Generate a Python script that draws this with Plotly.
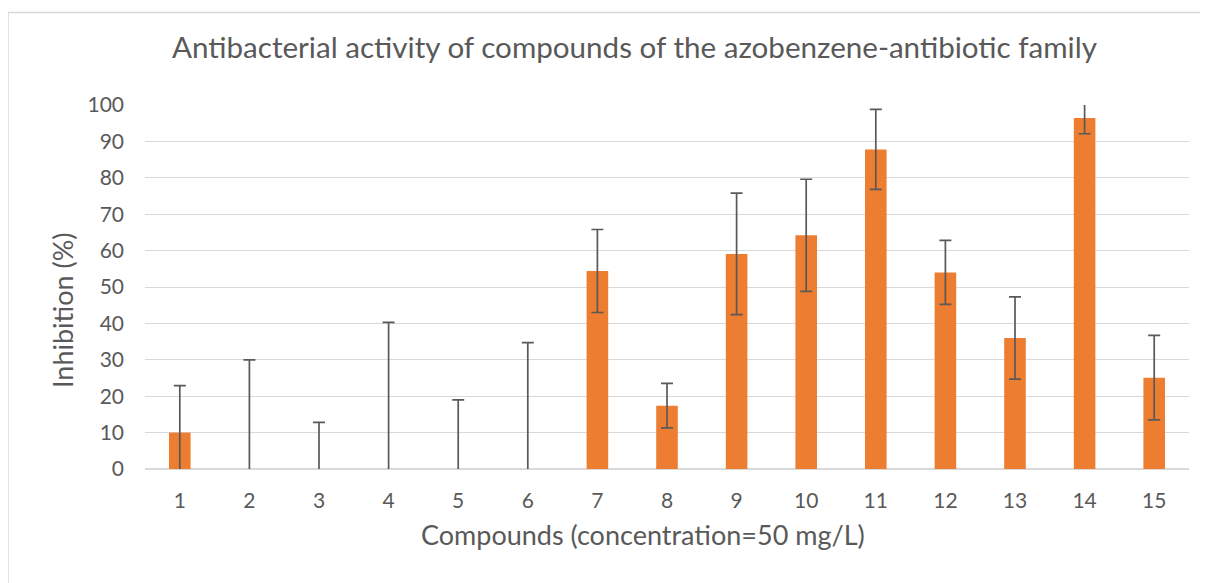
import plotly.graph_objects as go

compounds = [str(i) for i in range(1, 16)]
inhibition = [10.0, 0, 0, 0, 0, 0, 54.4, 17.4, 59.1, 64.2, 87.8, 54.0, 36.0, 96.4, 25.1]
error = [12.9, 30.0, 12.8, 40.3, 19.0, 34.7, 11.4, 6.1, 16.7, 15.4, 11.0, 8.8, 11.3, 4.3, 11.6]
y_ticks = list(range(0, 101, 10))

OFF = 8  # page body margin
W, H = 1200, 575
# plot area in page coordinates: x 145..1189, y 105..469
L, T = 145 - OFF, 105 - OFF
R = W - (1189 - OFF)
B = H - (469 - OFF)
pw, ph = W - L - R, H - T - B

FONT = "Lato"
GRAY = "#595959"


def px_x(p):  # page x -> paper x
    return (p - OFF - L) / pw


def px_y(p):  # page y -> paper y
    return (H - B - (p - OFF)) / ph


fig = go.Figure()
fig.add_trace(go.Bar(
    x=compounds, y=inhibition,
    marker=dict(color="#ED7D31", line=dict(width=0)),
    error_y=dict(type="data", array=error, symmetric=True,
                 color=GRAY, thickness=1.7, width=6),
))

fig.update_layout(
    width=W, height=H,
    margin=dict(l=L, r=R, t=T, b=B),
    paper_bgcolor="white", plot_bgcolor="white",
    bargap=0.69,
    showlegend=False,
    font=dict(family=FONT, color=GRAY),
    xaxis=dict(
        type="category", showgrid=False, ticks="", showline=False,
        tickfont=dict(size=21, color=GRAY), ticklabelstandoff=17,
    ),
    yaxis=dict(
        range=[0, 100], tickvals=y_ticks, showgrid=True, gridcolor="#d9d9d9", gridwidth=1.3,
        zeroline=True, zerolinecolor="#d9d9d9", zerolinewidth=1.5,
        showline=False, ticks="",
        tickfont=dict(size=21, color=GRAY), ticklabelstandoff=20,
    ),
    annotations=[
        dict(text="Antibacterial activity of compounds of the azobenzene-antibiotic family",
             xref="paper", yref="paper", x=px_x(635), y=px_y(47),
             xanchor="center", yanchor="middle", showarrow=False,
             font=dict(size=29.6, color=GRAY, family=FONT)),
        dict(text="Compounds (concentration=50 mg/L)",
             xref="paper", yref="paper", x=px_x(643), y=px_y(534),
             xanchor="center", yanchor="middle", showarrow=False,
             font=dict(size=27, color=GRAY, family=FONT)),
        dict(text="Inhibition (%)", textangle=-90,
             xref="paper", yref="paper", x=px_x(62), y=px_y(310),
             xanchor="center", yanchor="middle", showarrow=False,
             font=dict(size=27, color=GRAY, family=FONT)),
    ],
    shapes=[dict(type="rect", xref="paper", yref="paper",
                 x0=px_x(8), x1=px_x(1230), y0=px_y(600), y1=px_y(12.5),
                 line=dict(color="#d9d9d9", width=1.5), layer="below")],
)

fig.write_html("out.html")
